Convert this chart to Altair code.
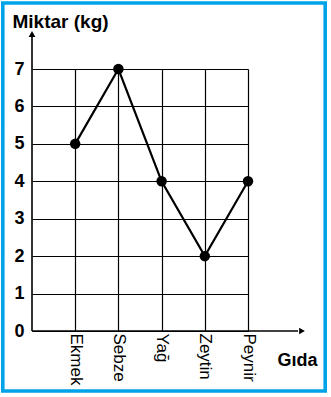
import altair as alt
import pandas as pd

gida = ["Ekmek", "Sebze", "Yağ", "Zeytin", "Peynir"]
miktar = [5, 7, 4, 2, 4]
y_ticks = [0, 1, 2, 3, 4, 5, 6, 7]

df = pd.DataFrame({"Gıda": gida, "Miktar": miktar})

W, H = 216, 262
FONT = "Liberation Sans"
BLUE = "#00A3E8"

x_enc = alt.X(
    "Gıda:N",
    sort=gida,
    scale=alt.Scale(type="point", padding=0.5, align=1),
    axis=alt.Axis(
        title="Gıda",
        titleFont=FONT, titleFontSize=18, titleFontWeight="bold", titleColor="black",
        titleAngle=0, titleAlign="left", titleBaseline="alphabetic",
        titleX=245, titleY=34,
        labelAngle=90, labelFont=FONT, labelFontSize=17, labelColor="black",
        labelPadding=2, ticks=False, domain=False,
        grid=True, gridColor="black", gridWidth=1.2, gridOpacity=1,
    ),
)
y_enc = alt.Y(
    "Miktar:Q",
    scale=alt.Scale(domain=[0, 7], nice=False),
    axis=alt.Axis(
        title="Miktar (kg)",
        titleFont=FONT, titleFontSize=19, titleFontWeight="bold", titleColor="black",
        titleAngle=0, titleAlign="left", titleBaseline="alphabetic",
        titleX=-20, titleY=-42,
        values=y_ticks, tickCount=8, format="d", labelOverlap=False,
        labelFont=FONT, labelFontSize=18, labelFontWeight="bold", labelColor="black",
        labelPadding=8, ticks=False, domain=False,
        grid=True, gridColor="black", gridWidth=1.2, gridOpacity=1,
    ),
)

line = alt.Chart(df).mark_line(color="black", strokeWidth=2.2).encode(x=x_enc, y=y_enc)
pts = alt.Chart(df).mark_point(filled=True, color="black", size=110, opacity=1).encode(
    x=x_enc, y=y_enc
)

one = alt.Data(values=[{"a": 1}])

y_axis_line = alt.Chart(one).mark_rule(color="black", strokeWidth=1.6).encode(
    x=alt.value(0), y=alt.value(H), y2=alt.value(-32)
)
x_axis_line = alt.Chart(one).mark_rule(color="black", strokeWidth=1.6).encode(
    x=alt.value(0), x2=alt.value(266), y=alt.value(H)
)
y_arrow = alt.Chart(one).mark_point(shape="triangle-up", filled=True, color="black",
                                     size=45, opacity=1).encode(
    x=alt.value(0), y=alt.value(-35)
)
x_arrow = alt.Chart(one).mark_point(shape="triangle-right", filled=True, color="black",
                                     size=45, opacity=1).encode(
    x=alt.value(270), y=alt.value(H)
)
border = alt.Chart(one).mark_rect(fill=None, stroke=BLUE, strokeWidth=3.6).encode(
    x=alt.value(-29.2), x2=alt.value(293.2), y=alt.value(-66), y2=alt.value(322)
)

chart = alt.layer(
    line, pts, y_axis_line, x_axis_line, y_arrow, x_arrow, border
).properties(
    width=W, height=H,
    autosize=alt.AutoSizeParams(type="none"),
    padding={"left": 32, "top": 69, "right": 331 - 32 - W, "bottom": 397 - 69 - H},
    background="white",
).configure_view(stroke=None)

chart.save("out.html", embed_options={"renderer": "svg", "actions": False})
